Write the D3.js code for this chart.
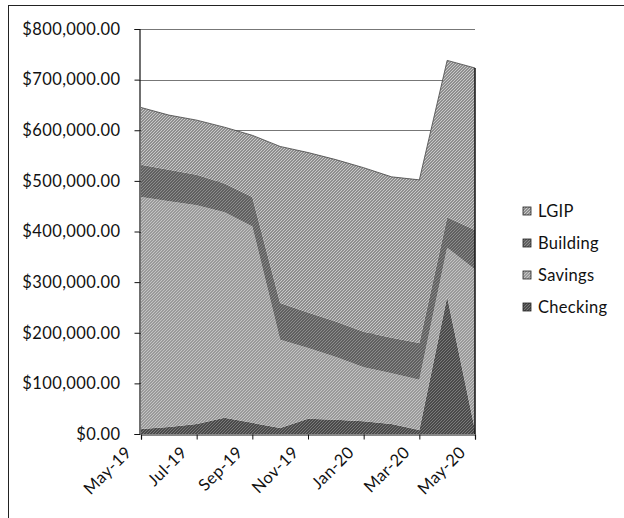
<!DOCTYPE html>
<head>
  <meta charset="utf-8">
  <script src="https://d3js.org/d3.v7.min.js"></script>
  <style>
    body { margin:0; background:#fff; }
    text { font-family: Lato, "Open Sans", sans-serif; fill:#111; }
  </style>
</head>
<body>
<script>
  var months = ["May-19","Jun-19","Jul-19","Aug-19","Sep-19","Oct-19","Nov-19","Dec-19","Jan-20","Feb-20","Mar-20","Apr-20","May-20"];
  var checking = [10000, 14000, 20000, 32000, 22000, 12000, 30000, 28000, 25000, 20000, 8000, 271000, 8000];
  var savings  = [458000, 446000, 432000, 406000, 388000, 174000, 140000, 124000, 107000, 100000, 99000, 97000, 317000];
  var building = [64000, 62000, 60000, 57000, 58000, 73000, 70000, 70000, 70000, 70000, 73000, 60000, 78000];
  var lgip     = [113000, 108000, 108000, 111000, 122000, 309000, 316000, 320000, 324000, 318000, 322000, 310000, 320000];
  var seriesNames = ["Checking", "Savings", "Building", "LGIP"];
  var yTicks = [0, 100000, 200000, 300000, 400000, 500000, 600000, 700000, 800000];

  var width = 624, height = 518;
  var svg = d3.select("body").append("svg").attr("width", width).attr("height", height);

  // dithered greys, like the printed excel patterns
  var fills = {
    Checking: ["#4a4a4a", "#7a7a7a"],
    Savings:  ["#9a9a9a", "#c4c4c4"],
    Building: ["#606060", "#8c8c8c"],
    LGIP:     ["#8e8e8e", "#c8c8c8"]
  };
  var defs = svg.append("defs");
  seriesNames.forEach(function(n) {
    var p = defs.append("pattern").attr("id", "pat" + n)
      .attr("width", 3).attr("height", 3).attr("patternUnits", "userSpaceOnUse");
    p.append("rect").attr("width", 3).attr("height", 3).attr("fill", fills[n][0]);
    p.append("rect").attr("x", 0).attr("y", 0).attr("width", 1).attr("height", 1).attr("fill", fills[n][1]);
    p.append("rect").attr("x", 2).attr("y", 1).attr("width", 1).attr("height", 1).attr("fill", fills[n][1]);
    p.append("rect").attr("x", 1).attr("y", 2).attr("width", 1).attr("height", 1).attr("fill", fills[n][1]);
  });

  // outer chart frame
  svg.append("rect").attr("x", 8.5).attr("y", 5.5).attr("width", 640).attr("height", 540)
    .attr("fill", "none").attr("stroke", "#222").attr("stroke-width", 1);

  var x = d3.scalePoint().domain(months).range([141, 475]);
  var y = d3.scaleLinear().domain([0, 800000]).range([434, 29]);

  var table = months.map(function(m, i) {
    return {month: m, Checking: checking[i], Savings: savings[i], Building: building[i], LGIP: lgip[i]};
  });
  var stack = d3.stack().keys(seriesNames)(table);

  // gridlines
  svg.append("g").selectAll("line").data(yTicks.slice(1)).enter().append("line")
    .attr("x1", 139).attr("x2", 475)
    .attr("y1", function(d) { return Math.round(y(d)) + 0.5; })
    .attr("y2", function(d) { return Math.round(y(d)) + 0.5; })
    .attr("stroke", "#777").attr("stroke-width", 1.2);

  var area = d3.area()
    .x(function(d) { return x(d.data.month); })
    .y0(function(d) { return y(d[0]); })
    .y1(function(d) { return y(d[1]); });

  svg.append("g").selectAll("path").data(stack).enter().append("path")
    .attr("d", area)
    .attr("fill", function(d) { return "url(#pat" + d.key + ")"; });

  // top outline of the stack and right edge
  var topLayer = stack[stack.length - 1];
  var last = topLayer[topLayer.length - 1];
  svg.append("path")
    .attr("d", d3.line().x(function(d) { return x(d.data.month); }).y(function(d) { return y(d[1]); })(topLayer))
    .attr("fill", "none").attr("stroke", "#444").attr("stroke-width", 0.8);
  svg.append("line")
    .attr("x1", x(last.data.month)).attr("x2", x(last.data.month))
    .attr("y1", y(last[1])).attr("y2", y(0))
    .attr("stroke", "#111").attr("stroke-width", 1.5);

  // y axis
  var yAxis = svg.append("g").attr("transform", "translate(139.5,0)")
    .call(d3.axisLeft(y).tickValues(yTicks).tickSize(5)
      .tickFormat(function(d) { return "$" + d3.format(",.2f")(d); }));
  yAxis.select(".domain").attr("stroke", "#111").attr("stroke-width", 1.2);
  yAxis.selectAll("line").attr("stroke", "#111");
  yAxis.selectAll("text").attr("font-size", "16.5px").attr("x", -19)
    .style("font-family", "Lato, sans-serif").style("letter-spacing", "0.4px").attr("fill", "#111");

  // x axis
  var xAxis = svg.append("g").attr("transform", "translate(0,434.5)")
    .call(d3.axisBottom(x).tickValues(months.filter(function(m, i) { return i % 2 === 0; })).tickSize(5));
  xAxis.select(".domain").attr("stroke", "#111").attr("stroke-width", 1.2);
  xAxis.selectAll("line").attr("stroke", "#111");
  xAxis.selectAll("text")
    .attr("font-size", "16.5px").style("font-family", "Lato, sans-serif").style("letter-spacing", "0.4px")
    .attr("fill", "#111")
    .attr("text-anchor", "end").attr("y", 0).attr("dy", 0)
    .attr("transform", "translate(-9,19) rotate(-45)");

  // legend
  var legend = svg.append("g").selectAll("g").data(seriesNames.slice().reverse()).enter().append("g")
    .attr("transform", function(d, i) { return "translate(523," + (211 + i * 32) + ")"; });
  legend.append("rect").attr("x", 0).attr("y", -4).attr("width", 8).attr("height", 8)
    .attr("fill", function(d) { return "url(#pat" + d + ")"; }).attr("stroke", "#222").attr("stroke-width", 0.8);
  legend.append("text").attr("x", 15).attr("dy", "0.35em").attr("font-size", "16.5px")
    .style("letter-spacing", "0.3px").text(function(d) { return d; });
</script>
</body>
